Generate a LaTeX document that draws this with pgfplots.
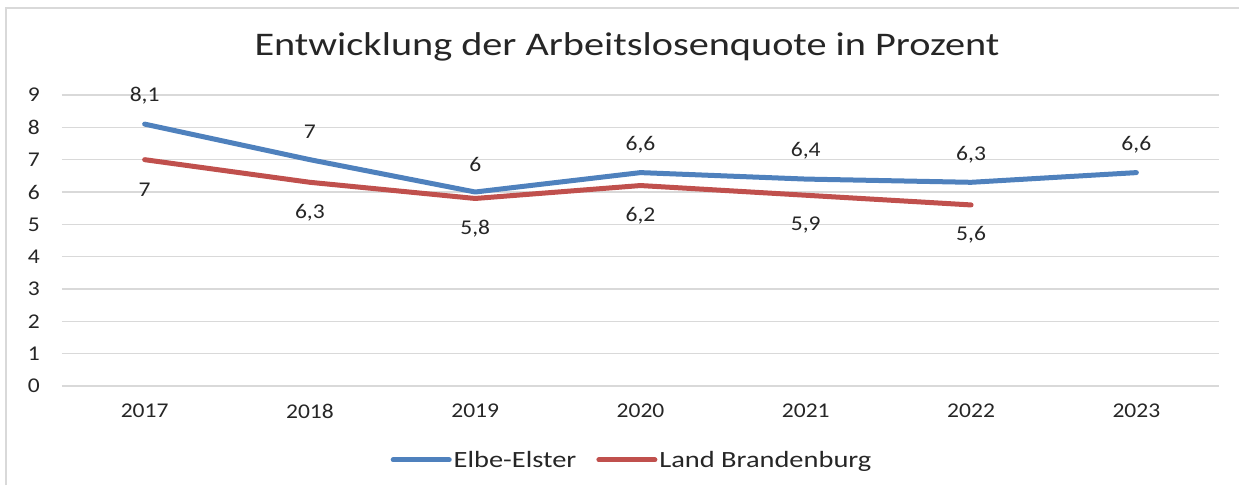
\documentclass[border=0pt]{standalone}
\usepackage{fontspec}
\setmainfont[FakeStretch=1.12]{Carlito}
\newfontfamily\wideft[FakeStretch=1.22]{Carlito}
\usepackage{pgfplots}
\pgfplotsset{compat=1.18}
\definecolor{eblue}{HTML}{4F81BD}
\definecolor{bred}{HTML}{C0504D}
\definecolor{gridc}{HTML}{D9D9D9}
\begin{document}
\begin{tikzpicture}[x=1pt,y=1pt]
\useasboundingbox (0,0) rectangle (1239,485);
\draw[gridc, line width=2.5pt] (6,0) -- (6,477) -- (1239,477);
\node[font=\wideft\fontsize{33}{38}\selectfont, text=black!85] at (627,438) {Entwicklung der Arbeitslosenquote in Prozent};
\begin{axis}[
  at={(62pt,99pt)}, anchor=south west,
  scale only axis, width=1157pt, height=291pt,
  xmin=-0.5, xmax=6.5, ymin=0, ymax=9,
  axis line style={draw=none},
  ymajorgrids, grid style={gridc, line width=1.5pt},
  major tick length=0pt,
  xtick={0,...,6}, xticklabels={2017,2018,2019,2020,2021,2022,2023},
  ytick={0,...,9},
  /pgf/number format/assume math mode=true,
  tick label style={font=\fontsize{21}{24}\selectfont, text=black!85},
  yticklabel style={anchor=east, inner sep=0pt, xshift=-22pt},
  xticklabel style={anchor=north, inner sep=0pt, yshift=-18pt},
  clip=false,
  legend style={at={(0.4927,-0.254)}, anchor=center, draw=none, fill=none,
    legend columns=2, font=\wideft\fontsize{23.3}{26}\selectfont, text=black!85,
    /tikz/every even column/.append style={column sep=18pt},
    cells={anchor=west}},
  legend image code/.code={\draw[#1] (0pt,0pt) -- (56pt,0pt);},
  nodes near coords, point meta=explicit symbolic,
  every node near coord/.append style={font=\fontsize{21}{24}\selectfont, text=black!85, inner sep=0pt},
]
\addplot[eblue, line width=5pt, line cap=round, line join=round,
  nodes near coords style={anchor=center, yshift=28pt}]
  coordinates {(0,8.1)[8,1] (1,7)[7] (2,6)[6] (3,6.6)[6,6] (4,6.4)[6,4] (5,6.3)[6,3] (6,6.6)[6,6]};
\addlegendentry{Elbe-Elster}
\addplot[bred, line width=5pt, line cap=round, line join=round,
  nodes near coords style={anchor=center, yshift=-30pt}]
  coordinates {(0,7)[7] (1,6.3)[6,3] (2,5.8)[5,8] (3,6.2)[6,2] (4,5.9)[5,9] (5,5.6)[5,6]};
\addlegendentry{Land Brandenburg}
\end{axis}
\end{tikzpicture}
\end{document}
